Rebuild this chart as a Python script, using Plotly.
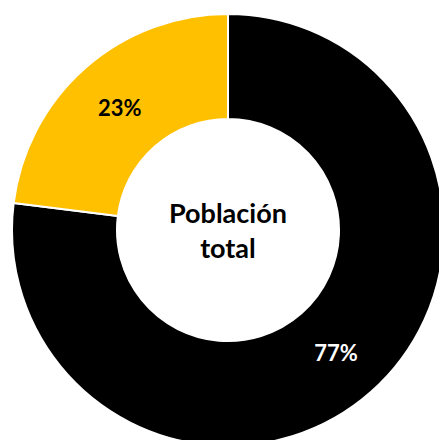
import plotly.graph_objects as go

labels = ["Resto", "Población seleccionada"]
values = [77, 23]
colors = ["#000000", "#FFC000"]
text_colors = ["#FFFFFF", "#000000"]
center_text = "Población<br>total"

fig = go.Figure()
fig.add_trace(go.Pie(
    labels=labels,
    values=values,
    hole=0.514,
    sort=False,
    direction="clockwise",
    rotation=0,
    marker=dict(colors=colors, line=dict(color="#FFFFFF", width=2)),
    textinfo="percent",
    texttemplate="%{percent:.0%}",
    textposition="inside",
    insidetextorientation="horizontal",
    insidetextfont=dict(family="Lato", size=22, color=text_colors, weight="bold"),
    showlegend=False,
    hoverinfo="label+percent",
))
fig.add_annotation(
    text=center_text,
    x=0.5, y=0.5, xref="paper", yref="paper",
    showarrow=False,
    font=dict(family="Lato", size=27, color="#000000", weight="bold"),
)
# donut centred at (228, 230) with r=216, so it runs off the right and bottom edges
fig.update_layout(
    width=444,
    height=446,
    margin=dict(l=12, r=0, t=14, b=0),
    paper_bgcolor="#FFFFFF",
    plot_bgcolor="#FFFFFF",
)
# drop the default body margin and hide scrollbars so the crop matches the original
fig.write_html(
    "out.html",
    config={"displayModeBar": False},
    post_script="document.body.style.margin='0';"
                "document.documentElement.style.overflow='hidden';"
                "document.body.style.overflow='hidden';",
)
